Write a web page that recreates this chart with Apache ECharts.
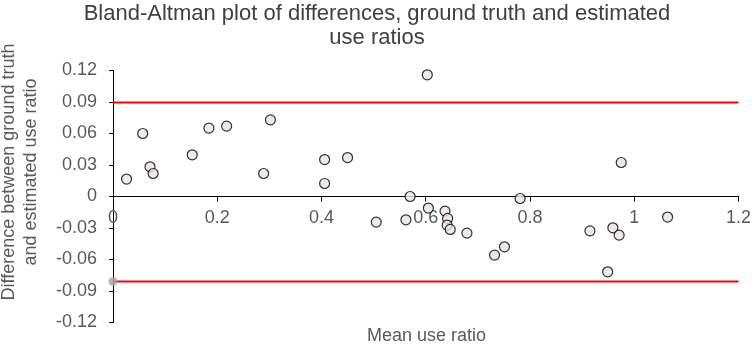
<!DOCTYPE html>
<html>
<head>
<meta charset="utf-8">
<script src="https://cdn.jsdelivr.net/npm/echarts@6/dist/echarts.min.js"></script>
<style>
  html, body { margin: 0; padding: 0; background: #fff; }
  #chart { width: 754px; height: 344px; }
</style>
</head>
<body>
<div id="chart"></div>
<script>
// mean use ratio (x) and difference (y) per recording
var meanRatio = [0.026, 0.057, 0.071, 0.077, 0.152, 0.184, 0.218,
                 0.289, 0.302, 0.406, 0.406, 0.450, 0.505, 0.562, 0.570,
                 0.603, 0.605, 0.637, 0.642, 0.641, 0.647, 0.679, 0.732,
                 0.751, 0.781, 0.915, 0.949, 0.959, 0.971, 0.975, 1.064];
var diffRatio = [0.0166, 0.060, 0.0283, 0.0219, 0.0397, 0.0651, 0.067,
                 0.0219, 0.073, 0.0352, 0.0124, 0.0371, -0.0244, -0.0222, 0.0,
                 0.1159, -0.011, -0.0139, -0.0209, -0.0273, -0.0314, -0.0349, -0.0558,
                 -0.0479, -0.0019, -0.0327, -0.0717, -0.0298, -0.0368, 0.0324, -0.0196];

var upperLimit = 0.0895;   // limits of agreement
var lowerLimit = -0.081;
var limitRange = [0, 1.2];

var xTicks = {min: 0, max: 1.2, step: 0.2};
var yTicks = {min: -0.12, max: 0.12, step: 0.03};

var chart = echarts.init(document.getElementById('chart'));

var points = meanRatio.map(function (x, i) { return [x, diffRatio[i]]; });
var font = 'Liberation Sans, Arial, sans-serif';
var gridTop = 70.5, gridBottom = 21.5;
var plotH = 344 - gridTop - gridBottom;

var option = {
    animation: false,
    backgroundColor: '#ffffff',
    grid: { left: 113, right: 14, top: gridTop, bottom: gridBottom },
    graphic: [
        {
            type: 'text', x: 377, y: 2,
            style: {
                text: 'Bland-Altman plot of differences, ground truth and estimated\nuse ratios',
                fontFamily: font, fontSize: 22, fill: '#404040',
                align: 'center', verticalAlign: 'top', lineHeight: 24
            }
        },
        {
            type: 'text', x: 20, y: 172, rotation: Math.PI / 2,
            style: {
                text: 'Difference between ground truth\nand estimated use ratio',
                fontFamily: font, fontSize: 18, fill: '#595959',
                align: 'center', verticalAlign: 'middle', lineHeight: 22
            }
        },
        {
            type: 'text', x: 426.5, y: 336,
            style: {
                text: 'Mean use ratio',
                fontFamily: font, fontSize: 18, fill: '#595959',
                align: 'center', verticalAlign: 'middle'
            }
        }
    ],
    xAxis: {
        type: 'value',
        min: xTicks.min, max: xTicks.max, interval: xTicks.step,
        position: 'bottom',
        offset: -plotH / 2,
        axisLine: { onZero: false, lineStyle: { color: '#000', width: 1 } },
        axisTick: { show: true, length: 5, lineStyle: { color: '#000' } },
        axisLabel: { color: '#595959', fontSize: 18, fontFamily: font, margin: 13 },
        splitLine: { show: false }
    },
    yAxis: {
        type: 'value',
        min: yTicks.min, max: yTicks.max, interval: yTicks.step,
        axisLine: { show: true, lineStyle: { color: '#000', width: 1 } },
        axisTick: { show: true, length: 4, lineStyle: { color: '#000' } },
        axisLabel: { color: '#595959', fontSize: 18, fontFamily: font, margin: 16 },
        splitLine: { show: false }
    },
    series: [
        {
            name: 'Upper limit',
            type: 'line',
            data: limitRange.map(function (x) { return [x, upperLimit]; }),
            showSymbol: false,
            lineStyle: { color: '#ff0000', width: 2 },
            silent: true
        },
        {
            name: 'Lower limit',
            type: 'line',
            data: limitRange.map(function (x) { return [x, lowerLimit]; }),
            showSymbol: false,
            lineStyle: { color: '#ff0000', width: 2 },
            silent: true
        },
        {
            name: 'Lower start',
            type: 'scatter',
            data: [[limitRange[0], lowerLimit]],
            symbolSize: 9,
            itemStyle: { color: '#a6a6a6' },
            z: 3
        },
        {
            name: 'Differences',
            type: 'scatter',
            data: points,
            symbolSize: 10,
            itemStyle: { color: '#ebe4e4', borderColor: '#000', borderWidth: 1.2 },
            z: 4
        }
    ]
};
chart.setOption(option);
</script>
</body>
</html>
